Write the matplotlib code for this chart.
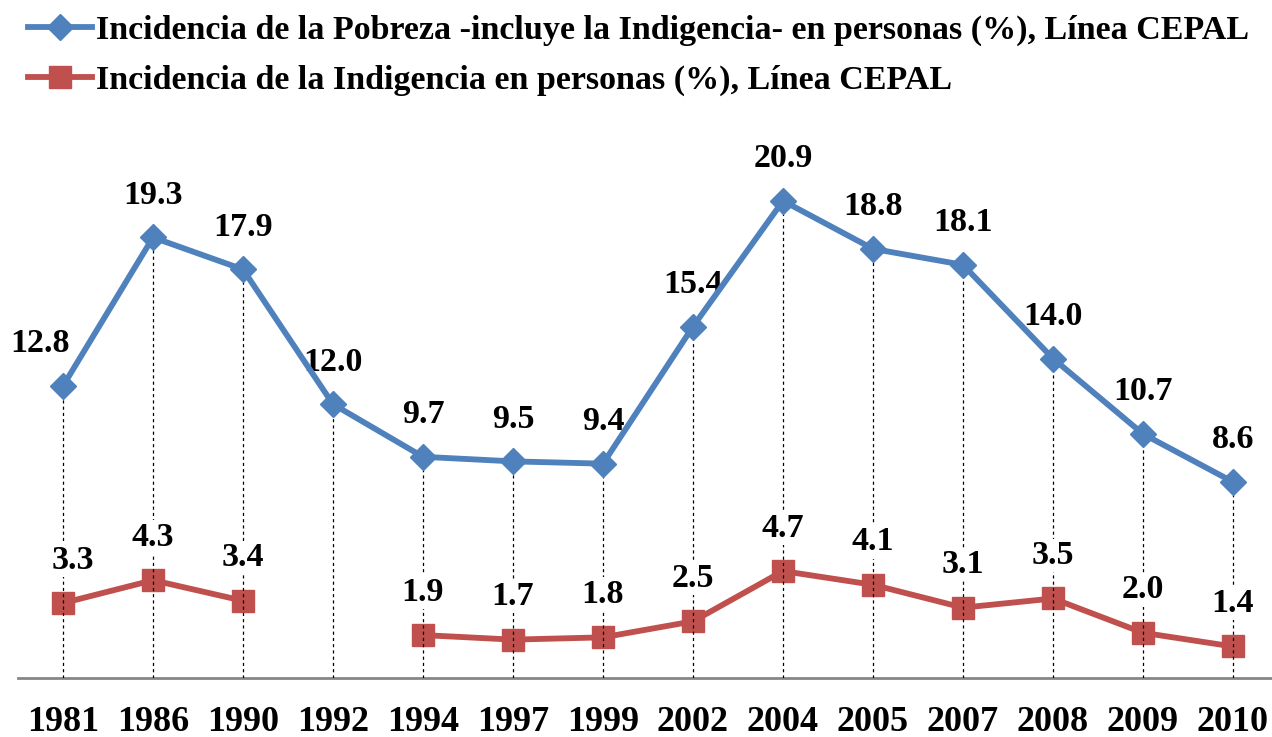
import matplotlib.pyplot as plt

# Datos (CEPAL)
years = ["1981", "1986", "1990", "1992", "1994", "1997", "1999",
         "2002", "2004", "2005", "2007", "2008", "2009", "2010"]
pobreza = [12.8, 19.3, 17.9, 12.0, 9.7, 9.5, 9.4, 15.4, 20.9, 18.8, 18.1, 14.0, 10.7, 8.6]
indigencia = [3.3, 4.3, 3.4, None, 1.9, 1.7, 1.8, 2.5, 4.7, 4.1, 3.1, 3.5, 2.0, 1.4]

label_pobreza = "Incidencia de la Pobreza -incluye la Indigencia- en personas (%), Línea CEPAL"
label_indigencia = "Incidencia de la Indigencia en personas (%), Línea CEPAL"

COLOR_BLUE = "#4F81BD"
COLOR_RED = "#C0504D"
COLOR_AXIS = "#868686"

plt.rcParams["font.family"] = ["Liberation Serif", "DejaVu Serif"]
plt.rcParams["font.weight"] = "bold"

fig = plt.figure(figsize=(12.72, 7.37), dpi=100)
ax = fig.add_axes([18 / 1272, 0.0794, 1254 / 1272, 0.7442])

x = list(range(len(years)))
ind_vals = [float("nan") if v is None else v for v in indigencia]

line_p, = ax.plot(x, pobreza, color=COLOR_BLUE, linewidth=4.2, marker="D",
                  markersize=13, zorder=5, label=label_pobreza)
line_i, = ax.plot(x, ind_vals, color=COLOR_RED, linewidth=4.2, marker="s",
                  markersize=16, zorder=2, label=label_indigencia)

# Lineas de proyeccion
ax.vlines(x, 0, pobreza, colors="black", linestyles=(0, (2.5, 2.5)),
          linewidth=0.9, zorder=3)

label_kw = dict(ha="center", va="center", fontsize=24.5, fontweight="bold",
                textcoords="offset pixels", zorder=4,
                bbox=dict(facecolor="white", edgecolor="none", pad=1))
for xi, v in zip(x, pobreza):
    dx = -23 if xi == 0 else 0
    ax.annotate(f"{v:.1f}", (xi, v), xytext=(dx, 42), **label_kw)
for xi, v in zip(x, indigencia):
    if v is None:
        continue
    dx = 10 if xi == 0 else 0
    ax.annotate(f"{v:.1f}", (xi, v), xytext=(dx, 43), **label_kw)

ax.set_xlim(-0.5, len(years) - 0.5 - 6 / 90)
ax.set_ylim(0, 24)
ax.set_xticks(x)
ax.set_xticklabels(years, fontsize=26, fontweight="bold")
ax.tick_params(axis="x", length=0, pad=20)
ax.set_yticks([])
for side in ["left", "right", "top"]:
    ax.spines[side].set_visible(False)
ax.spines["bottom"].set_color(COLOR_AXIS)
ax.spines["bottom"].set_linewidth(2)

fig.legend(handles=[line_p, line_i], loc="upper left",
           bbox_to_anchor=(14 / 1272, 1 - 1 / 737), frameon=False,
           prop=dict(size=24.5, weight="bold"), handlelength=1.9,
           handletextpad=0.1, labelspacing=0.55, borderaxespad=0)

fig.savefig("out.png", dpi=100)
